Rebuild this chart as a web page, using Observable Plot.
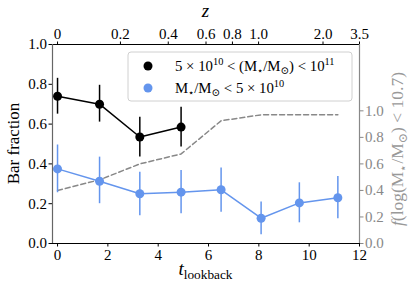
<!DOCTYPE html>
<html><head><meta charset="utf-8">
<script src="https://cdn.jsdelivr.net/npm/d3@7"></script>
<script src="https://cdn.jsdelivr.net/npm/@observablehq/plot@0.6"></script>
<style>body{margin:0;background:#fff}</style>
</head><body><div id="chart"></div>
<script>
const tHigh = [0, 1.67, 3.27, 4.91];
const fracHigh = [0.74, 0.70, 0.535, 0.585];
const errHighLo = [0.65, 0.61, 0.435, 0.485];
const errHighHi = [0.83, 0.795, 0.635, 0.685];
const tLow = [0, 1.67, 3.27, 4.91, 6.5, 8.09, 9.61, 11.14];
const fracLow = [0.375, 0.313, 0.25, 0.258, 0.27, 0.127, 0.204, 0.23];
const errLowLo = [0.255, 0.20, 0.14, 0.149, 0.157, 0.044, 0.104, 0.124];
const errLowHi = [0.495, 0.434, 0.358, 0.367, 0.38, 0.208, 0.305, 0.337];
const fLowMass = [0.40, 0.48, 0.60, 0.675, 0.925, 0.97, 0.97, 0.97];
const zTickLabels = ["0", "0.2", "0.4", "0.6", "0.8", "1.0", "2.0", "3.5"];
const zTickT = [0, 2.5, 4.4, 5.9, 6.95, 7.99, 10.55, 12];
const xTicks = [0, 2, 4, 6, 8, 10, 12];
const yTicks = [0, 0.2, 0.4, 0.6, 0.8, 1.0];
const rightTicks = [0, 0.2, 0.4, 0.6, 0.8, 1.0];
const rightMax = 1.5;

const highData = tHigh.map((t, i) => ({t, f: fracHigh[i], lo: errHighLo[i], hi: errHighHi[i]}));
const lowData = tLow.map((t, i) => ({t, f: fracLow[i], lo: errLowLo[i], hi: errLowHi[i], fl: fLowMass[i]}));
const zMap = new Map(zTickT.map((t, i) => [t, zTickLabels[i]]));
const BLUE = "#6495ED", GRAY = "#888888";
const FONT = "'Liberation Serif', 'DejaVu Serif', serif";

const plot = Plot.plot({
  width: 414, height: 291,
  marginLeft: 52, marginRight: 55, marginTop: 44, marginBottom: 48,
  x: {domain: [-0.2, 12]},
  y: {domain: [0, 1]},
  style: {fontFamily: FONT, fontSize: "15px", background: "white", color: "black"},
  marks: [
    Plot.axisY({ticks: yTicks, tickFormat: d => d.toFixed(1), tickSize: 3.5, tickPadding: 2, label: null, fontSize: 15, fontFamily: FONT}),
    Plot.axisY({anchor: "right", ticks: rightTicks.map(v => v / rightMax), tickFormat: d => (d * rightMax).toFixed(1), tickSize: 3.5, tickPadding: 2, label: null, color: GRAY, fontSize: 15, fontFamily: FONT}),
    Plot.axisX({ticks: xTicks, tickFormat: d => String(d), tickSize: 3.5, tickPadding: 2, label: null, fontSize: 15, fontFamily: FONT}),
    Plot.axisX({anchor: "top", ticks: zTickT, tickFormat: d => zMap.get(d), tickSize: 3.5, tickPadding: 2, label: null, fontSize: 15, fontFamily: FONT}),
    Plot.line(lowData, {x: "t", y: d => d.fl / rightMax, stroke: GRAY, strokeWidth: 1.5, strokeDasharray: "5,3"}),
    Plot.line(lowData, {x: "t", y: "f", stroke: BLUE, strokeWidth: 1.5}),
    Plot.ruleX(lowData, {x: "t", y1: "lo", y2: "hi", stroke: BLUE, strokeWidth: 1.5}),
    Plot.dot(lowData, {x: "t", y: "f", r: 4.5, fill: BLUE}),
    Plot.line(highData, {x: "t", y: "f", stroke: "black", strokeWidth: 1.5}),
    Plot.ruleX(highData, {x: "t", y1: "lo", y2: "hi", stroke: "black", strokeWidth: 1.5}),
    Plot.dot(highData, {x: "t", y: "f", r: 4.5, fill: "black"}),
    Plot.ruleY([0, 1], {stroke: "black", strokeWidth: 1.2}),
    Plot.ruleX([-0.2], {stroke: "#666", strokeWidth: 1.2}),
    Plot.ruleX([12], {stroke: GRAY, strokeWidth: 1.2})
  ]
});
document.getElementById("chart").appendChild(plot);

const svg = d3.select(plot);
function rich(g, parts, size) {
  let shift = 0;
  g.attr("font-family", FONT).attr("font-size", size);
  for (const [s, type] of parts) {
    const ts = g.append("tspan").text(s);
    let target = 0, fs = size;
    if (type === "sup") { target = -size * 0.38; fs = size * 0.7; }
    if (type === "sub") { target = size * 0.22; fs = size * 0.7; }
    if (type === "it") ts.attr("font-style", "italic");
    ts.attr("font-size", fs).attr("dy", target - shift);
    shift = target;
  }
}
// left label
svg.append("text").attr("transform", "translate(19,143.5) rotate(-90)").attr("text-anchor", "middle")
  .attr("font-family", FONT).attr("font-size", 17).text("Bar fraction");
// top label
svg.append("text").attr("x", 205.5).attr("y", 17).attr("text-anchor", "middle")
  .attr("font-family", FONT).attr("font-size", 19).attr("font-style", "italic").text("z");
// bottom label
const bl = svg.append("text").attr("x", 205.5).attr("y", 275).attr("text-anchor", "middle");
rich(bl, [["t", "it"], ["lookback", "sub"]], 19);
// right label
const rl = svg.append("text").attr("transform", "translate(403,149) rotate(-90)").attr("text-anchor", "middle").attr("fill", "#999");
rich(rl, [["f", "it"], ["(log(M", "n"], ["⋆", "sub"], ["/M", "n"], ["⊙", "sub"], [") < 10.7)", "n"]], 17.5);
// legend
const lg = svg.append("g");
lg.append("rect").attr("x", 128).attr("y", 52).attr("width", 224).attr("height", 49).attr("rx", 3)
  .attr("fill", "white").attr("fill-opacity", 0.85).attr("stroke", "#d0d0d0");
lg.append("circle").attr("cx", 148).attr("cy", 66).attr("r", 4.5).attr("fill", "black");
lg.append("circle").attr("cx", 148).attr("cy", 88).attr("r", 4.5).attr("fill", BLUE);
const l1 = lg.append("text").attr("x", 175).attr("y", 71).attr("text-anchor", "start");
rich(l1, [["5 × 10", "n"], ["10", "sup"], [" < (M", "n"], ["⋆", "sub"], ["/M", "n"], ["⊙", "sub"], [") < 10", "n"], ["11", "sup"]], 14.8);
const l2 = lg.append("text").attr("x", 175).attr("y", 93).attr("text-anchor", "start");
rich(l2, [["M", "n"], ["⋆", "sub"], ["/M", "n"], ["⊙", "sub"], [" < 5 × 10", "n"], ["10", "sup"]], 14.8);
</script></body></html>
